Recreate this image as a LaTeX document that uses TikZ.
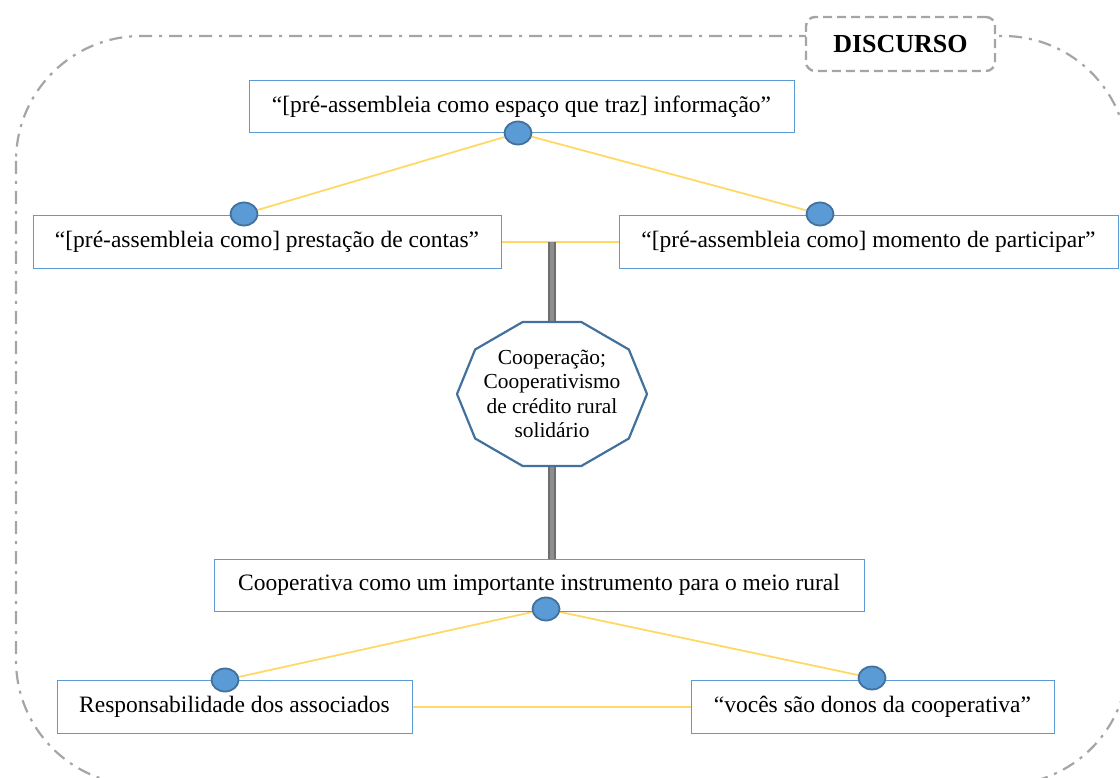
\documentclass[tikz,border=0pt]{standalone}
\usepackage{fontspec}
\setmainfont{Liberation Serif}
\usetikzlibrary{shapes.geometric,calc,backgrounds}
\definecolor{boxblue}{HTML}{5B9BD5}
\definecolor{dotedge}{HTML}{41719C}
\definecolor{linkyellow}{HTML}{FFD966}
\definecolor{framegray}{HTML}{A5A5A5}
\definecolor{bardark}{HTML}{6E6E6E}
\definecolor{barmid}{HTML}{8E8E8E}
\begin{document}
\begin{tikzpicture}[x=1pt, y=-1pt,
    box/.style = {draw=boxblue, line width=1pt, fill=white, inner sep=0pt,
                  font=\fontsize{23.5}{28}\selectfont},
    dot/.style = {draw=dotedge, line width=1.8pt, fill=boxblue, ellipse,
                  minimum width=27pt, minimum height=23pt, inner sep=0pt},
    link/.style = {draw=linkyellow, line width=1.8pt},
    bar/.style = {draw=bardark, double=barmid, double distance=4.5pt, line width=1.6pt}]
        \useasboundingbox (0,0) rectangle (1120,778);
        \clip (0,0) rectangle (1120,778);
        %
        \node[draw=framegray, line width=2.4pt, dash pattern=on 9pt off 5pt,
              rounded corners=9pt, fill=white,
              minimum width=189pt, minimum height=54pt, inner sep=0pt,
              font=\fontsize{26}{30}\selectfont\bfseries] (discurso) at (900.5,44) {DISCURSO};
        %
        \node[box, minimum width=545pt, minimum height=52pt] (info) at (521.5,107)
            {“[pré-assembleia como espaço que traz] informação”};
        \node[box, minimum width=468pt, minimum height=53pt] (contas) at (267,242)
            {“[pré-assembleia como] prestação de contas”};
        \node[box, minimum width=499pt, minimum height=53pt] (partic) at (868.5,242)
            {“[pré-assembleia como] momento de participar”};
        \node[box, minimum width=650pt, minimum height=52pt] (instr) at (539,585)
            {Cooperativa como um importante instrumento para o meio rural};
        \node[box, minimum width=355pt, minimum height=53pt] (resp) at (234.5,707)
            {Responsabilidade dos associados};
        \node[box, minimum width=363pt, minimum height=53pt] (donos) at (872.5,707)
            {“vocês são donos da cooperativa”};
        %
        \node[dot] (d0) at (518,133) {};
        \node[dot] (d1) at (244,214) {};
        \node[dot] (d2) at (820,214) {};
        \node[dot] (d3) at (546,609) {};
        \node[dot] (d4) at (225,680) {};
        \node[dot] (d5) at (872,678) {};
        %
        \coordinate (c) at (552,394);
        \draw[dotedge, line width=2.2pt, fill=white]
            ($(c)+(0:95pt and 75.7pt)$)
            \foreach \a in {36,72,...,324} { -- ($(c)+(\a:95pt and 75.7pt)$) } -- cycle;
        \node[minimum width=190pt, minimum height=144pt, inner sep=0pt, align=center,
              font=\fontsize{21.4}{24.5}\selectfont] (coop) at (c)
            {Cooperação;\\Cooperativismo\\de crédito rural\\solidário};
        \coordinate (mid) at (coop.north |- contas.east);
        %
        \begin{scope}[on background layer]
        \draw[framegray, line width=2.2pt, rounded corners=125pt,
              dash pattern=on 13pt off 7pt on 3pt off 7pt] (16,36) rectangle (1128,785);
        \draw[link] (d0) -- (d1);
        \draw[link] (d0) -- (d2);
        \draw[link] (d3) -- (d4);
        \draw[link] (d3) -- (d5);
        \draw[link] (contas.east) -- (partic.west);
        \draw[link] (resp.east) -- (donos.west);
        \draw[bar] (mid) -- (coop.north);
        \draw[bar] (coop.south) -- (coop.south |- instr.north);
        \end{scope}
\end{tikzpicture}
\end{document}
